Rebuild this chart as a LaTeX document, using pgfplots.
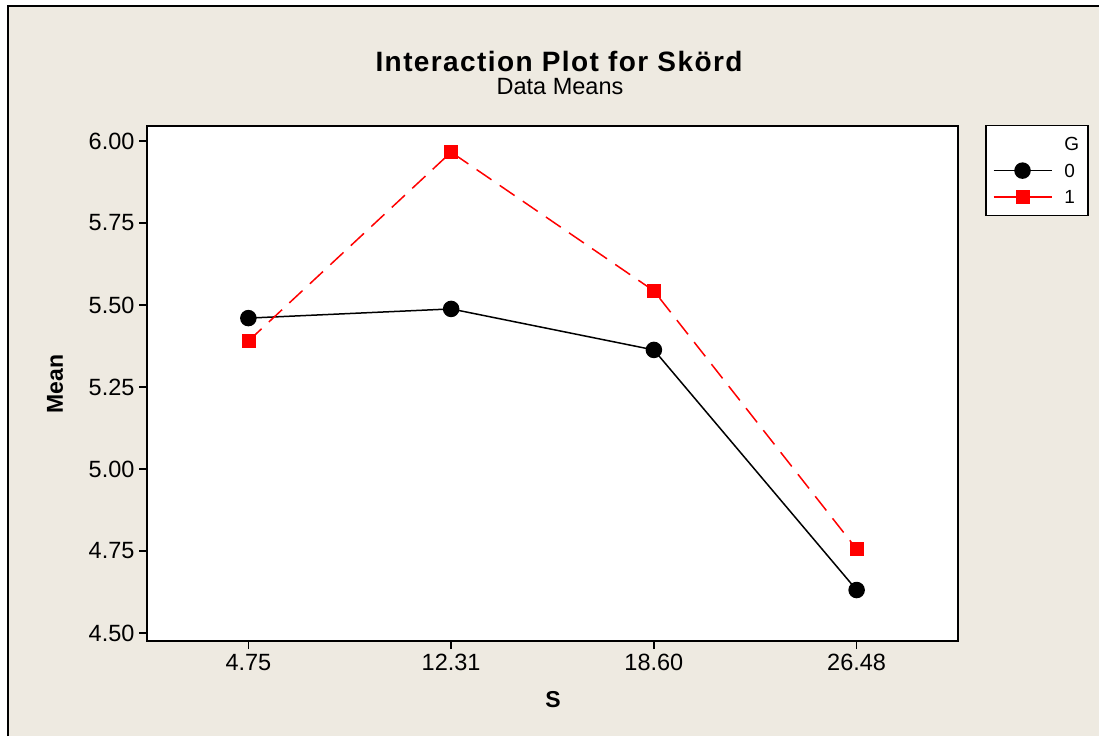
\documentclass[border=0pt]{standalone}
\usepackage{fontspec}
\setmainfont{Liberation Sans}
\usepackage{pgfplots}
\pgfplotsset{compat=1.18}
\definecolor{bgbeige}{RGB}{238,234,225}
\definecolor{mred}{RGB}{255,0,0}
\begin{document}
\begin{tikzpicture}[x=1pt,y=1pt]
\useasboundingbox (0,0) rectangle (1099,736);
\fill[white] (0,0) rectangle (1099,736);
\fill[bgbeige] (7.5,0) rectangle (1099,729.5);
\draw[black,line width=2pt] (7.5,0) -- (7.5,729.5) -- (1099,729.5);
\node[anchor=base,inner sep=0pt,font=\fontsize{28}{32}\selectfont\bfseries\addfontfeatures{LetterSpace=5}] at (559,664) {Interaction Plot for Skörd};
\node[anchor=base,inner sep=0pt,font=\fontsize{23.5}{27}\selectfont] at (560,641) {Data Means};
\node[rotate=90,font=\fontsize{23}{27}\selectfont\bfseries] at (55,352) {Mean};
\node[font=\fontsize{23}{27}\selectfont\bfseries] at (553,36) {S};
\begin{axis}[
  at={(147pt,95pt)}, anchor=south west,
  width=811pt, height=515pt, scale only axis,
  xmin=-0.5, xmax=3.5, ymin=4.4756, ymax=6.0457,
  xtick={0,1,2,3}, xticklabels={4.75,12.31,18.60,26.48},
  ytick={4.5,4.75,5,5.25,5.5,5.75,6},
  yticklabels={4.50,4.75,5.00,5.25,5.50,5.75,6.00},
  tick align=outside, xtick pos=bottom, ytick pos=left,
  major tick length=8pt,
  every tick/.style={black,line width=1.5pt},
  axis line style={line width=2pt},
  axis background/.style={fill=white},
  /pgf/number format/assume math mode=true,
  ticklabel style={font=\fontsize{23.5}{27}\selectfont},
  xticklabel style={yshift=-2pt},
  yticklabel style={xshift=-1pt},
  legend style={at={(1.0333,1.002)}, anchor=north west, draw=black, line width=1.5pt,
    fill=white, font=\fontsize{19}{22}\selectfont, row sep=9pt,
    inner xsep=7pt, inner ysep=10pt, column sep=10pt,
    nodes={inner sep=2pt, text depth=0pt}},
  legend cell align=left,
  legend image code/.code={\draw[mark repeat=2,mark phase=2,#1,solid] plot coordinates {(0pt,0pt) (29pt,0pt) (58pt,0pt)};},
]
\addlegendimage{empty legend}
\addlegendentry{G\hspace{5pt}}
\addplot[black, line width=1.5pt, mark=*, mark size=7.5pt, mark options={solid,fill=black}] coordinates {
(0,5.460) (1,5.488) (2,5.363) (3,4.631)};
\addlegendentry{0}
\addplot[mred, line width=1.5pt, dash pattern=on 18pt off 10pt, mark=square*, mark size=6.5pt, mark options={solid,fill=mred,draw=mred,line width=0.5pt}] coordinates {
(0,5.390) (1,5.966) (2,5.543) (3,4.756)};
\addlegendentry{1}
\end{axis}
\end{tikzpicture}
\end{document}
